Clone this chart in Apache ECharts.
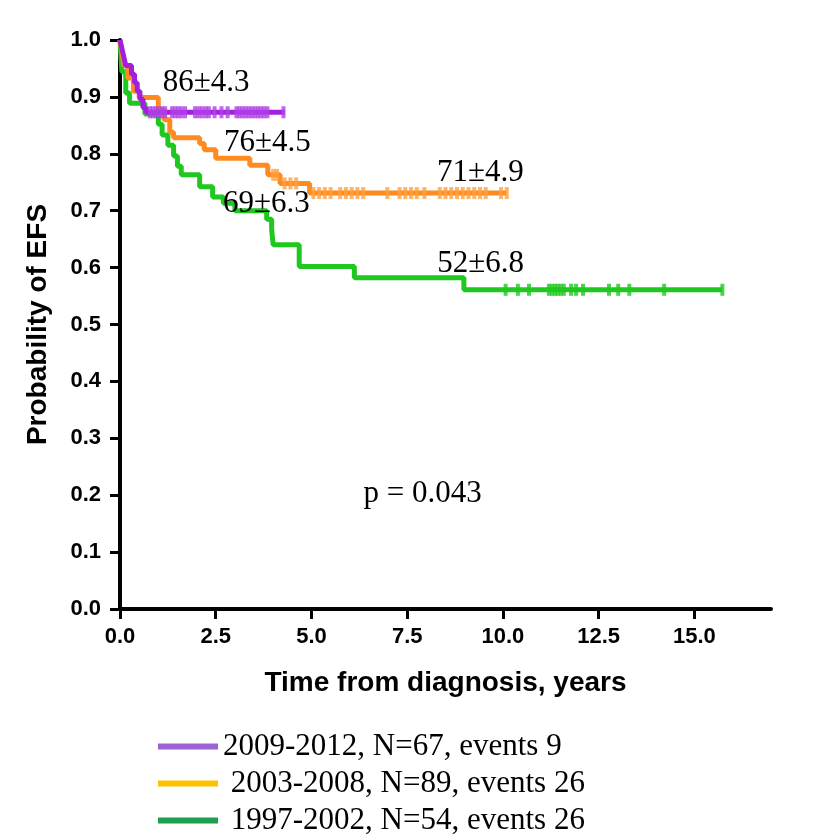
<!DOCTYPE html>
<html><head><meta charset="utf-8">
<script src="https://cdn.jsdelivr.net/npm/echarts@6.0.0/dist/echarts.min.js"></script>
<style>html,body{margin:0;padding:0;background:#fff}#c{width:822px;height:839px}</style>
</head><body><div id="c"></div>
<script>
// ---- data ----
const xTicks = [0, 2.5, 5, 7.5, 10, 12.5, 15];

const namePurple = '2009-2012, N=67, events 9';
const nameOrange = ' 2003-2008, N=89, events 26';
const nameGreen  = ' 1997-2002, N=54, events 26';

const purpleT = [0, 0.05, 0.1, 0.15, 0.3, 0.38, 0.45, 0.52, 0.6, 0.68, 4.3];
const purpleS = [1.0, 0.985, 0.970, 0.955, 0.940, 0.925, 0.910, 0.896, 0.881, 0.873, 0.873];
const purpleCensor = [0.78,0.86,0.94,1.02,1.1,1.18,1.36,1.44,1.52,1.6,1.7,1.96,2.05,2.14,2.24,2.32,2.47,2.65,2.81,3.04,3.12,3.2,3.28,3.36,3.44,3.52,3.6,3.68,3.76,3.85,4.27];

const orangeT = [0, 0.05, 0.1, 0.2, 0.35, 0.5, 1.0, 1.15, 1.3, 1.4, 2.08, 2.2, 2.5, 3.39, 3.86, 4.18, 4.95, 10.1];
const orangeS = [1.0, 0.978, 0.955, 0.933, 0.91, 0.899, 0.877, 0.86, 0.838, 0.828, 0.818, 0.807, 0.792, 0.78, 0.763, 0.748, 0.731, 0.731];
const orangeCensor = [4.0,4.1,4.3,4.45,4.6,5.05,5.2,5.35,5.5,5.75,5.9,6.05,6.2,6.35,6.98,7.3,7.45,7.6,7.75,7.95,8.35,8.5,8.65,8.8,8.95,9.1,9.25,9.4,9.55,9.95,10.1];

const greenT = [0, 0.05, 0.15, 0.25, 0.65, 1.0, 1.1, 1.25, 1.4, 1.5, 1.6, 2.08, 2.42, 2.7, 3.0, 3.83, 3.96, 4.0, 4.68, 6.12, 8.98, 15.73];
const greenS = [1.0, 0.944, 0.907, 0.889, 0.870, 0.852, 0.833, 0.815, 0.796, 0.778, 0.763, 0.742, 0.724, 0.713, 0.700, 0.685, 0.667, 0.640, 0.602, 0.582, 0.561, 0.561];
const greenCensor = [10.07,10.39,10.68,11.2,11.28,11.36,11.43,11.51,11.59,11.78,11.91,12.09,12.77,13.01,13.3,14.21,15.73];

const annoText = ['86±4.3', '76±4.5', '69±6.3', '71±4.9', '52±6.8', 'p = 0.043'];
const annoX    = [2.25, 3.85, 3.82, 9.41, 9.42, 7.9];
const annoY    = [0.924, 0.82, 0.712, 0.766, 0.606, 0.203];

// ---- helpers ----
function pairs(T, S) { return T.map((t, i) => [t, S[i]]); }
function survAt(T, S, t) { let v = S[0]; for (let i = 0; i < T.length; i++) { if (T[i] <= t) v = S[i]; } return v; }
function censorPts(C, T, S) { return C.map(t => [t, survAt(T, S, t)]); }

const colP = '#a21fe0', colO = '#ff8a1e', colG = '#1ec81e';
const sansB = { fontFamily: 'Liberation Sans', fontWeight: 'bold', color: '#000' };

function km(name, T, S, color, z) {
  return { name, type: 'line', step: 'end', showSymbol: false, symbol: 'none', z,
    lineStyle: { color, width: 5 }, itemStyle: { color }, data: pairs(T, S) };
}
function cens(C, T, S, color, z) {
  return { type: 'scatter', symbol: 'rect', symbolSize: [4, 12], z,
    itemStyle: { color }, data: censorPts(C, T, S) };
}
function leg(name, color, top) {
  return { orient: 'vertical', left: 158, top, itemWidth: 60, itemHeight: 6, icon: 'rect',
    selectedMode: false, padding: 0,
    textStyle: { fontSize: 31, lineHeight: 31, fontFamily: 'Liberation Serif', color: '#000' },
    data: [{ name, itemStyle: { color } }] };
}

const chart = echarts.init(document.getElementById('c'));
chart.setOption({
  animation: false,
  backgroundColor: '#fff',
  grid: { left: 120, right: 51, top: 40, bottom: 230 },
  xAxis: {
    type: 'value', min: 0, max: 17,
    name: 'Time from diagnosis, years', nameLocation: 'middle', nameGap: 60,
    nameTextStyle: Object.assign({ fontSize: 28 }, sansB),
    axisLine: { lineStyle: { color: '#000', width: 4 } },
    axisTick: { customValues: xTicks, length: 10, lineStyle: { color: '#000', width: 3 } },
    axisLabel: Object.assign({ customValues: xTicks, fontSize: 22, margin: 17, formatter: v => v.toFixed(1) }, sansB),
    splitLine: { show: false }
  },
  yAxis: {
    type: 'value', min: 0, max: 1, interval: 0.1,
    name: 'Probability of EFS', nameLocation: 'middle', nameGap: 68, nameRotate: 90,
    nameTextStyle: Object.assign({ fontSize: 28 }, sansB),
    axisLine: { lineStyle: { color: '#000', width: 4 } },
    axisTick: { length: 10, lineStyle: { color: '#000', width: 3 } },
    axisLabel: Object.assign({ fontSize: 22, margin: 19, formatter: v => v.toFixed(1) }, sansB),
    splitLine: { show: false }
  },
  legend: [
    leg(namePurple, '#9b63d6', 731),
    leg(nameOrange, '#ffc000', 768),
    leg(nameGreen, '#1e9e4e', 805)
  ],
  series: [
    km(nameGreen, greenT, greenS, colG, 2),
    cens(greenCensor, greenT, greenS, colG, 2),
    km(nameOrange, orangeT, orangeS, colO, 3),
    cens(orangeCensor, orangeT, orangeS, '#ffa040', 3),
    km(namePurple, purpleT, purpleS, colP, 4),
    cens(purpleCensor, purpleT, purpleS, '#b040e8', 4),
    { type: 'scatter', symbolSize: 0, z: 6, itemStyle: { color: '#000' },
      label: { show: true, position: 'inside', fontSize: 31, fontFamily: 'Liberation Serif', color: '#000',
               opacity: 1, textBorderWidth: 0, formatter: p => p.name },
      data: annoText.map((t, i) => ({ name: t, value: [annoX[i], annoY[i]] })) }
  ]
});
</script>
</body></html>
